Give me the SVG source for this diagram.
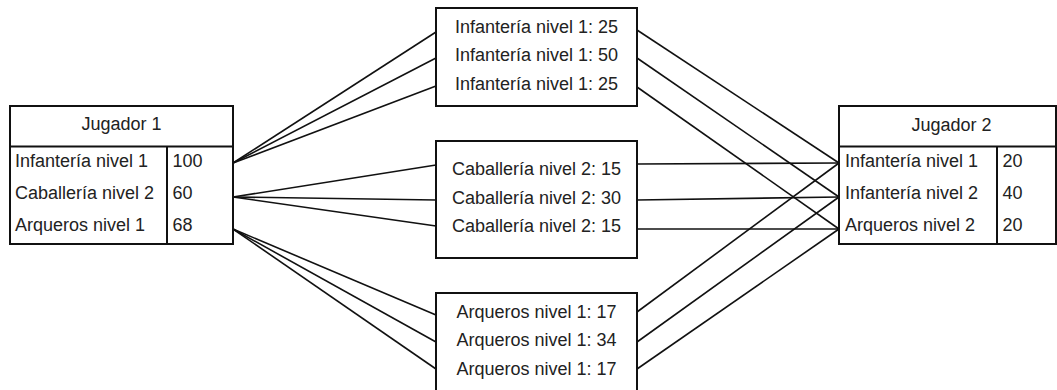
<svg xmlns="http://www.w3.org/2000/svg" width="1057" height="390" viewBox="0 0 1057 390">
<style>
.box{fill:#fff;stroke:#111;stroke-width:2}
.sep{stroke:#111;stroke-width:2}
.t{font-family:"Liberation Sans",Arial,sans-serif;font-size:18px;fill:#222}
.c{text-anchor:middle}
.conn line{stroke:#111;stroke-width:1.6}
</style>
<rect width="1057" height="390" fill="#fff"/>
<g id="connectors" class="conn">
<line x1="233" y1="163" x2="436" y2="32"/>
<line x1="233" y1="163" x2="436" y2="58"/>
<line x1="233" y1="163" x2="436" y2="86"/>
<line x1="233" y1="197" x2="436" y2="165"/>
<line x1="233" y1="197" x2="436" y2="200"/>
<line x1="233" y1="197" x2="436" y2="226"/>
<line x1="233" y1="229" x2="436" y2="315"/>
<line x1="233" y1="229" x2="436" y2="342"/>
<line x1="233" y1="229" x2="436" y2="369"/>
<line x1="637" y1="30" x2="839" y2="163"/>
<line x1="637" y1="58" x2="839" y2="197"/>
<line x1="637" y1="87" x2="839" y2="229"/>
<line x1="637" y1="164" x2="839" y2="163"/>
<line x1="637" y1="200" x2="839" y2="197"/>
<line x1="637" y1="229" x2="839" y2="229"/>
<line x1="637" y1="312" x2="839" y2="163"/>
<line x1="637" y1="342" x2="839" y2="197"/>
<line x1="637" y1="369" x2="839" y2="229"/>
</g>
<g id="jugador1">
<rect class="box" x="10" y="106" width="223" height="138"/>
<line class="sep" x1="10" y1="146.5" x2="233" y2="146.5"/>
<line class="sep" x1="167" y1="146.5" x2="167" y2="244"/>
<text class="t c" x="121.5" y="130">Jugador 1</text>
<text class="t" x="15" y="166.5">Infantería nivel 1</text>
<text class="t" x="172.5" y="166.5">100</text>
<text class="t" x="15" y="199">Caballería nivel 2</text>
<text class="t" x="172.5" y="199">60</text>
<text class="t" x="15" y="231">Arqueros nivel 1</text>
<text class="t" x="172.5" y="231">68</text>
</g>
<g id="infanteria">
<rect class="box" x="436" y="8" width="201" height="98"/>
<text class="t c" x="536.5" y="32.5">Infantería nivel 1: 25</text>
<text class="t c" x="536.5" y="61">Infantería nivel 1: 50</text>
<text class="t c" x="536.5" y="89.5">Infantería nivel 1: 25</text>
</g>
<g id="caballeria">
<rect class="box" x="436" y="141" width="201" height="117"/>
<text class="t c" x="536.5" y="175">Caballería nivel 2: 15</text>
<text class="t c" x="536.5" y="203.5">Caballería nivel 2: 30</text>
<text class="t c" x="536.5" y="232">Caballería nivel 2: 15</text>
</g>
<g id="arqueros">
<rect class="box" x="436" y="293" width="201" height="120"/>
<text class="t c" x="536.5" y="317.5">Arqueros nivel 1: 17</text>
<text class="t c" x="536.5" y="346">Arqueros nivel 1: 34</text>
<text class="t c" x="536.5" y="374.5">Arqueros nivel 1: 17</text>
</g>
<g id="jugador2">
<rect class="box" x="839" y="106" width="217" height="138"/>
<line class="sep" x1="839" y1="146.5" x2="1057" y2="146.5"/>
<line class="sep" x1="997" y1="146.5" x2="997" y2="244"/>
<text class="t c" x="951.5" y="131">Jugador 2</text>
<text class="t" x="845" y="166.5">Infantería nivel 1</text>
<text class="t" x="1002.5" y="166.5">20</text>
<text class="t" x="845" y="199">Infantería nivel 2</text>
<text class="t" x="1002.5" y="199">40</text>
<text class="t" x="845" y="231">Arqueros nivel 2</text>
<text class="t" x="1002.5" y="231">20</text>
</g>
</svg>
